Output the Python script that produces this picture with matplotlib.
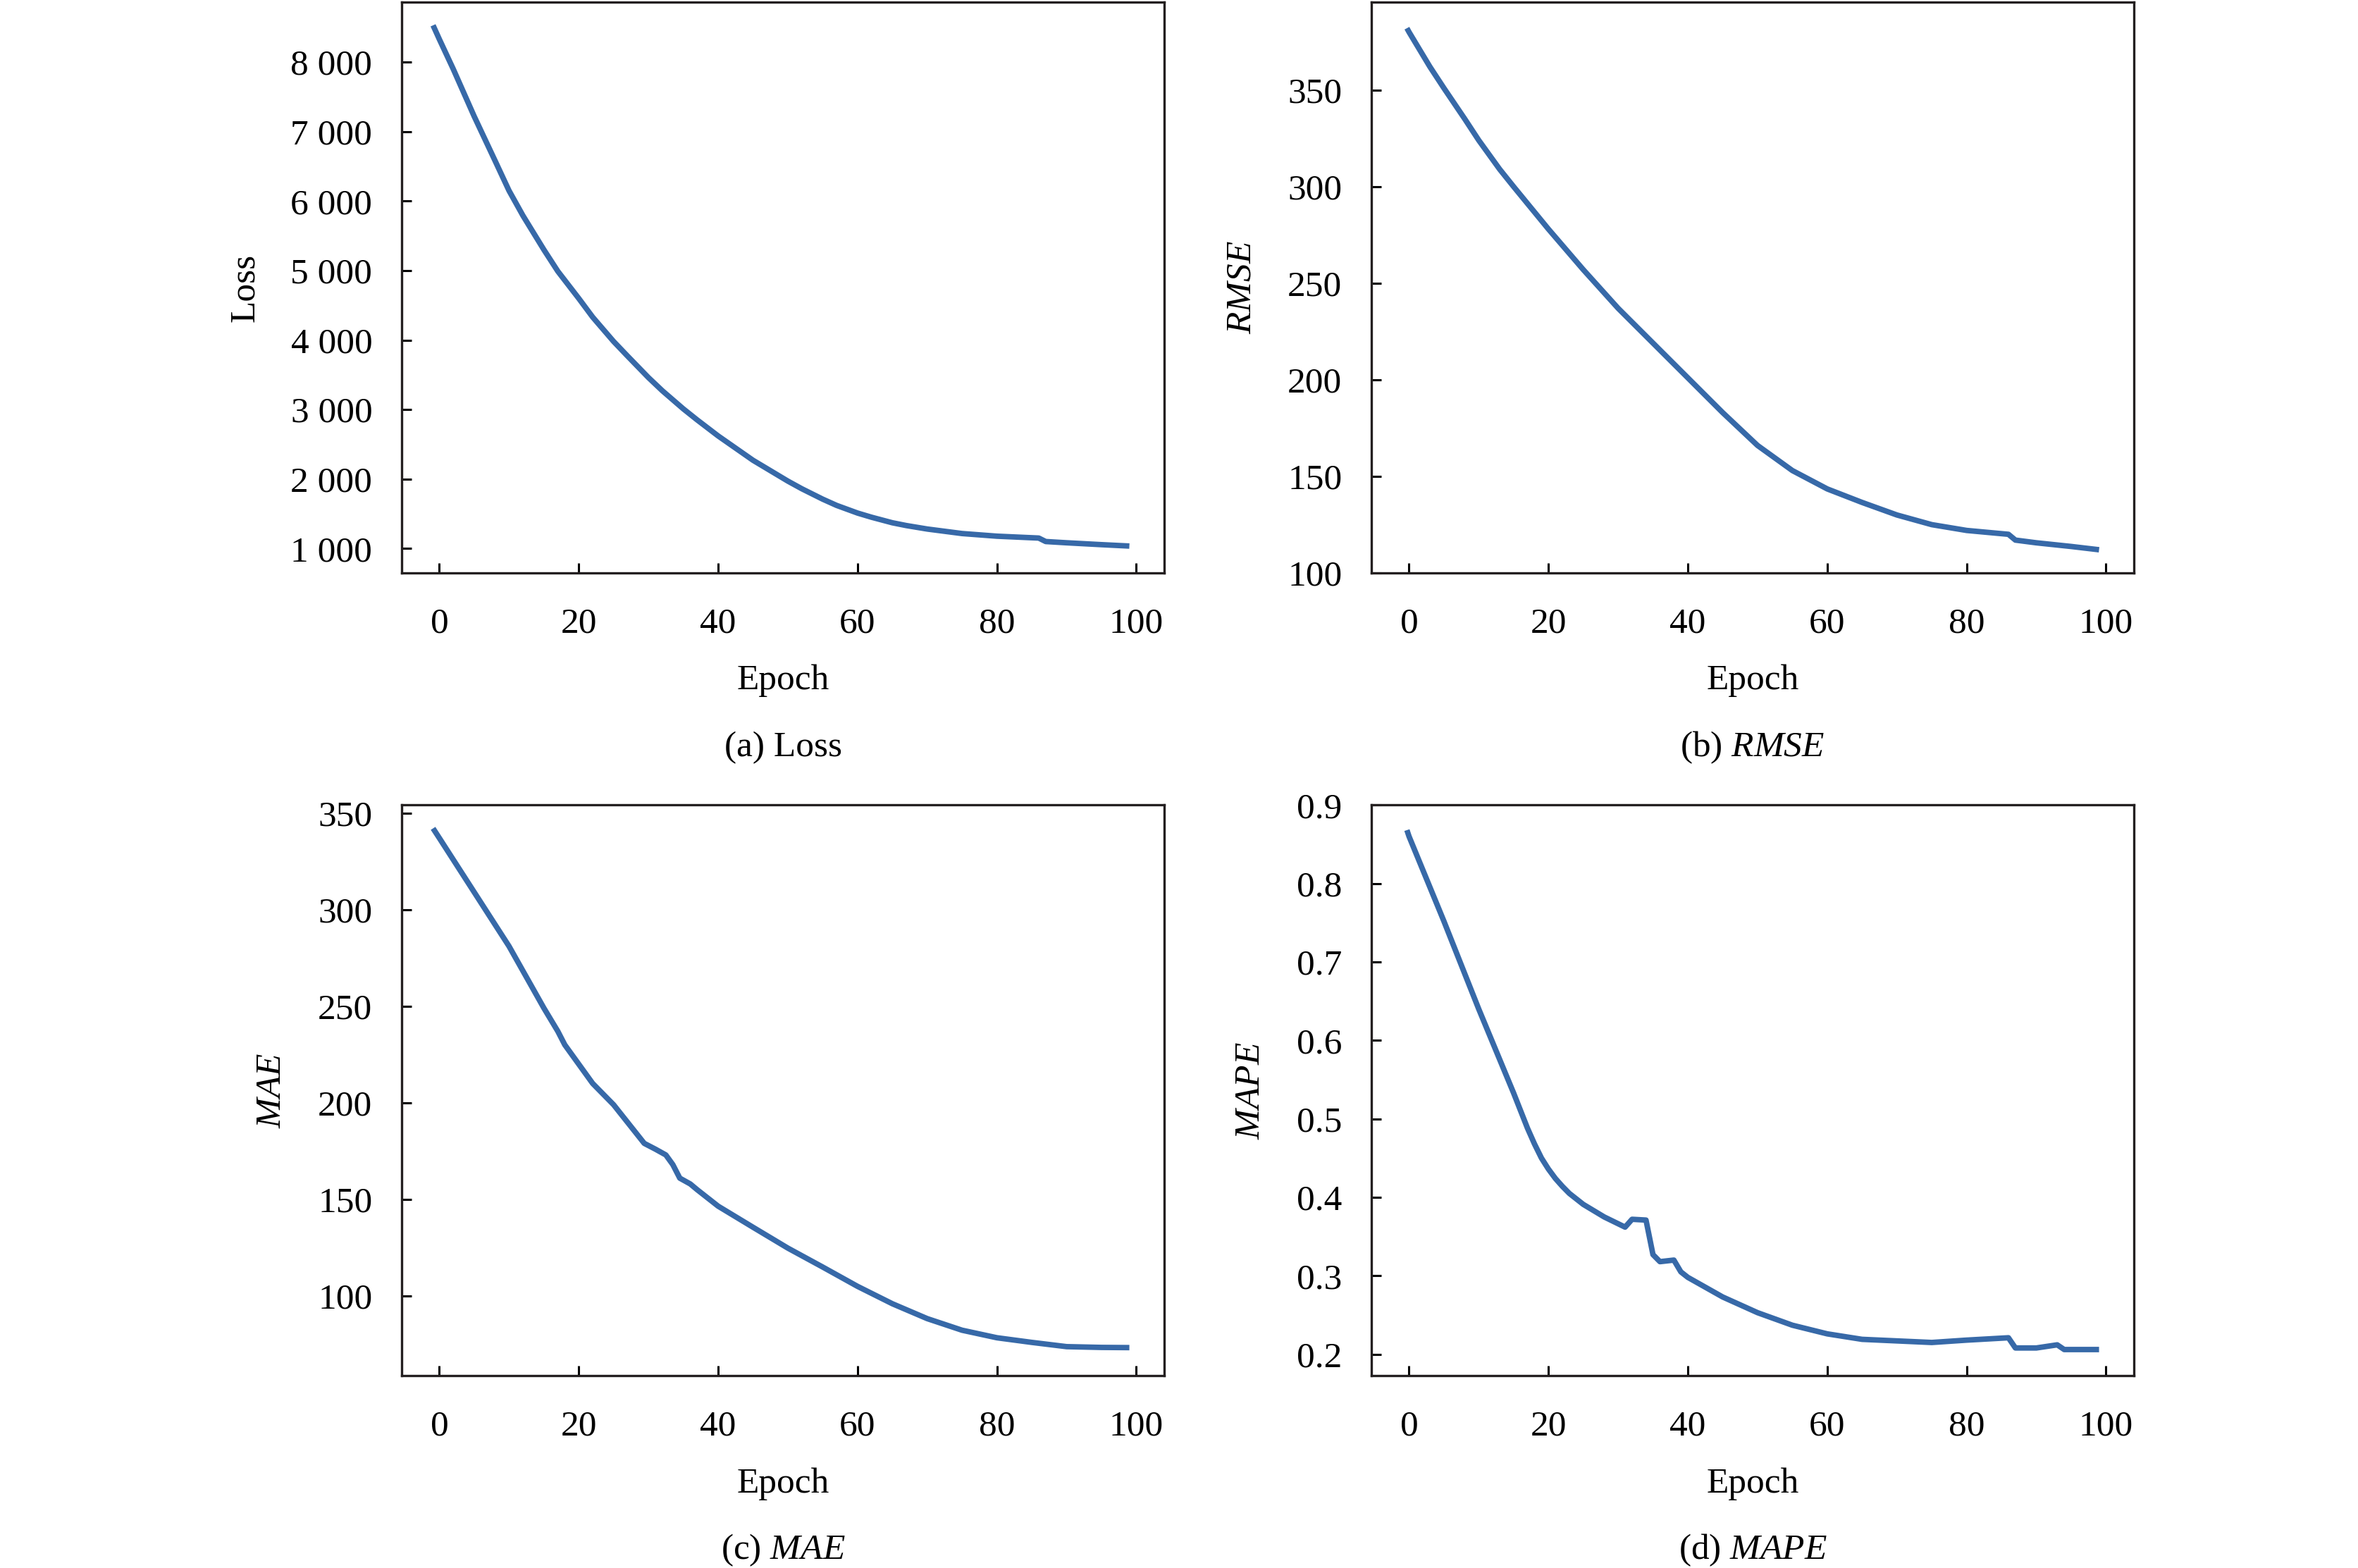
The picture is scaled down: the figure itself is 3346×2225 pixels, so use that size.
import numpy as np
import matplotlib
matplotlib.use("Agg")
import matplotlib.pyplot as plt
from matplotlib.ticker import FuncFormatter

# ---- data ----
loss_epoch = [-0.9, 0, 2, 5, 8, 10, 12, 15, 17, 20, 22, 25, 27, 30, 32, 35, 37, 40, 42, 45, 47, 50,
              52, 55, 57, 60, 62, 65, 67, 70, 75, 80, 86, 87, 90, 95, 99]
loss_val = [8530, 8330, 7900, 7220, 6580, 6150, 5790, 5300, 4990, 4600, 4330, 3980, 3770, 3460, 3270,
            3010, 2850, 2620, 2480, 2270, 2150, 1970, 1860, 1710, 1620, 1510, 1450, 1370, 1330, 1280,
            1215, 1177, 1150, 1100, 1082, 1055, 1035]

rmse_epoch = [-0.3, 0, 3, 5, 8, 10, 13, 15, 20, 25, 30, 35, 40, 45, 50, 55, 60, 65, 70, 75, 80, 86, 87,
              90, 95, 99]
rmse_val = [382, 380, 362, 351, 335, 324, 309, 300, 278, 257, 237, 219, 201, 183, 166, 153, 143.5,
            136.5, 130, 125, 122, 120, 117, 115.6, 113.7, 112]

mae_epoch = [-0.9, 0, 5, 10, 15, 17, 18, 20, 22, 25, 29.4, 31, 32.5, 33.5, 34.5, 36, 37, 40, 45, 50,
             55, 60, 65, 70, 75, 80, 85, 90, 95, 99]
mae_val = [342, 337, 309, 281, 249, 237, 230, 220, 210, 199, 179, 176, 173, 168, 161, 158, 155, 146.5,
           135.6, 124.8, 115, 105, 96, 88.3, 82.3, 78.4, 76, 73.8, 73.4, 73.3]

mape_epoch = [-0.3, 0, 5, 10, 15, 17, 18, 19, 20, 21, 22, 23, 25, 28, 31, 32, 34, 35, 36, 38, 39, 40,
              45, 50, 55, 60, 65, 70, 75, 80, 86, 87, 90, 93, 94, 99]
mape_val = [0.868, 0.86, 0.752, 0.64, 0.533, 0.488, 0.468, 0.450, 0.436, 0.424, 0.414, 0.405, 0.391,
            0.375, 0.362, 0.372, 0.371, 0.327, 0.318, 0.320, 0.305, 0.298, 0.273, 0.253, 0.237, 0.226,
            0.219, 0.217, 0.215, 0.218, 0.221, 0.208, 0.208, 0.212, 0.206, 0.206]

x_ticks = [0, 20, 40, 60, 80, 100]

# ---- style ----
plt.rcParams['font.family'] = ['Liberation Serif', 'DejaVu Serif']
plt.rcParams['mathtext.fontset'] = 'custom'
plt.rcParams['mathtext.rm'] = 'Liberation Serif'
plt.rcParams['mathtext.it'] = 'Liberation Serif:italic'
FS = 18.5
LINE_COLOR = '#3769a8'

fig = plt.figure(figsize=(16.73, 11.125), dpi=200)

W, H = 3346.0, 2225.0
left_cols = [570 / W, 1946 / W]
width = 1082 / W
bottoms = [1 - 813 / H, 1 - 1952.3 / H]
height = 810 / H


def thousands(v, pos):
    return f"{int(round(v)):,}".replace(",", " ")


panels = [
    (loss_epoch, loss_val, (648, 8864), np.arange(1000, 8001, 1000), 'Loss', '(a) Loss', thousands),
    (rmse_epoch, rmse_val, (100, 395.5), np.arange(100, 351, 50), '$RMSE$', '(b) $RMSE$', None),
    (mae_epoch, mae_val, (58.7, 354.1), np.arange(100, 351, 50), '$MAE$', '(c) $MAE$', None),
    (mape_epoch, mape_val, (0.1725, 0.9), np.round(np.arange(0.2, 0.91, 0.1), 1), '$MAPE$', '(d) $MAPE$',
     lambda v, p: f"{v:.1f}"),
]

for i, (ex, ey, ylim, yticks, ylab, cap, fmt) in enumerate(panels):
    r, c = divmod(i, 2)
    ax = fig.add_axes([left_cols[c], bottoms[r], width, height])
    ax.plot(ex, ey, color=LINE_COLOR, lw=2.8, solid_capstyle='butt', solid_joinstyle='round')
    ax.set_xlim(-5.4, 104.0)
    ax.set_ylim(*ylim)
    ax.set_xticks(x_ticks)
    ax.set_yticks(yticks)
    if fmt is not None:
        ax.yaxis.set_major_formatter(FuncFormatter(fmt))
    ax.tick_params(axis='x', direction='in', length=5.2, width=1.1, pad=17.5, labelsize=FS,
                   top=False)
    ax.tick_params(axis='y', direction='in', length=5.2, width=1.1, pad=15, labelsize=FS,
                   right=False)
    for sp in ax.spines.values():
        sp.set_linewidth(1.2)
        sp.set_color('#231f20')
    ax.set_xlabel('Epoch', fontsize=FS, labelpad=12.5)
    ax.set_ylabel(ylab, fontsize=FS, labelpad=15)
    cx = left_cols[c] + width / 2
    cy = [1 - 1073 / H, 1 - 2212 / H][r]
    fig.text(cx, cy, cap, ha='center', va='baseline', fontsize=FS)

fig.savefig('out.png', dpi=200)
